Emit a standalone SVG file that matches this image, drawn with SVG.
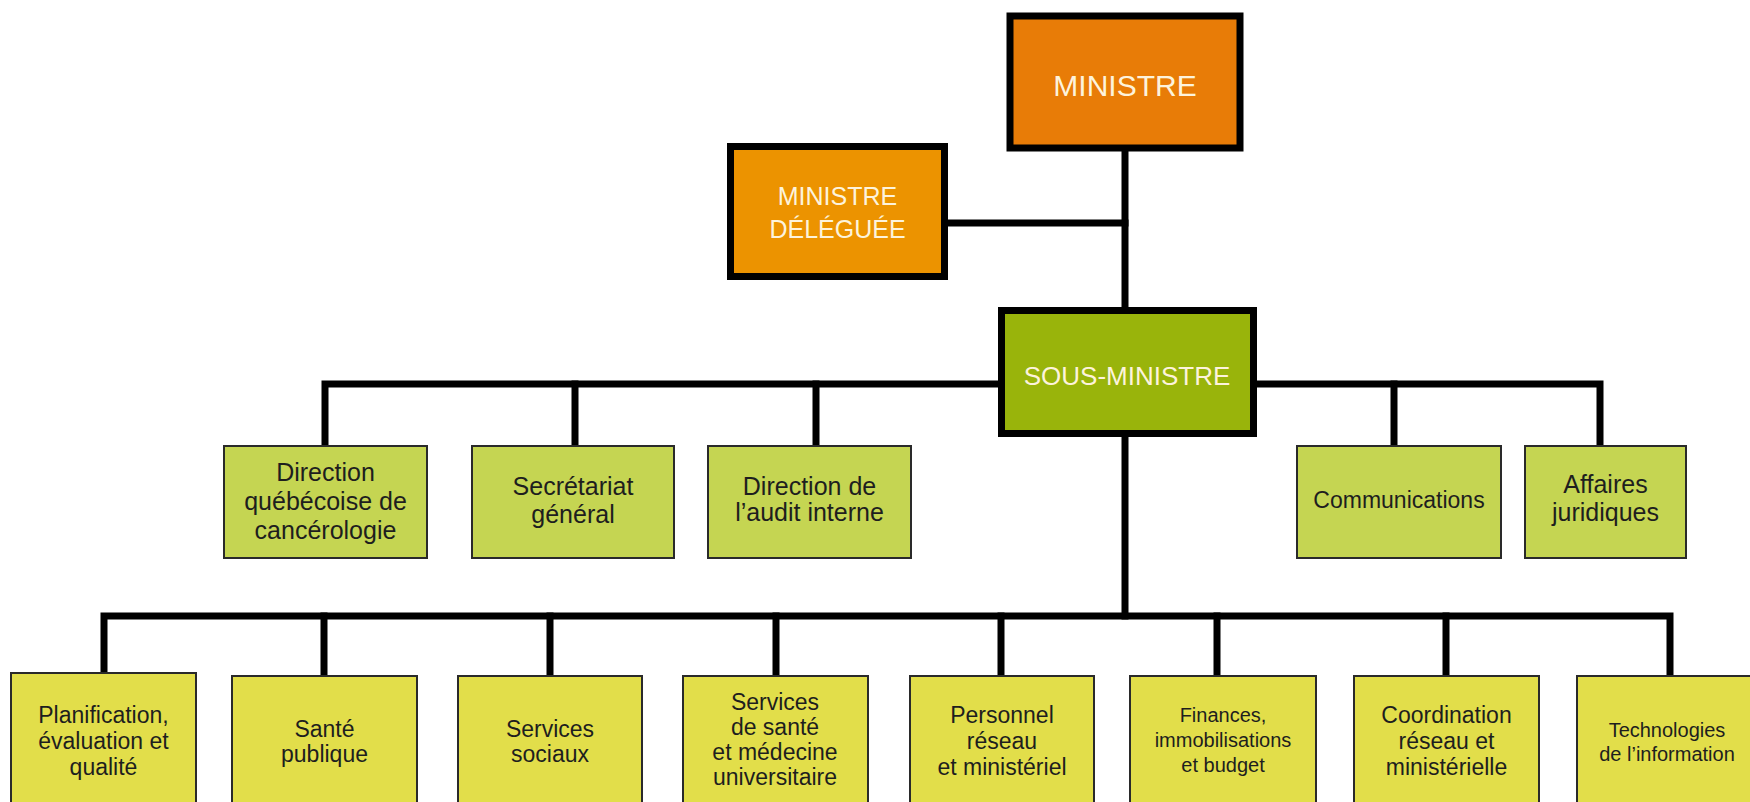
<svg xmlns="http://www.w3.org/2000/svg" width="1750" height="802" viewBox="0 0 1750 802">
<style>
.conn{stroke:#000;stroke-width:7;fill:none;stroke-linecap:square}
.top{stroke:#000;stroke-width:7}
.l2{fill:#C5D552;stroke:#2a2a2a;stroke-width:2}
.l3{fill:#E2DE4A;stroke:#2a2a2a;stroke-width:2}
text{font-family:"Liberation Sans",Arial,sans-serif;text-anchor:middle}
.tw{fill:#FDF3DC}
.td{fill:#1e1e1e;font-size:25px}
.t3{fill:#1e1e1e;font-size:23px}
.t3s{fill:#1e1e1e;font-size:20px}
</style>
<rect width="1750" height="802" fill="#fff"/>
<g id="connectors">
<path class="conn" d="M1125 152V309"/>
<path class="conn" d="M948 223H1125"/>
<path class="conn" d="M325 446V384H1600V446"/>
<path class="conn" d="M575 384V446M816 384V446M1394 384V446"/>
<path class="conn" d="M1125 437V616"/>
<path class="conn" d="M104 674V616H1670V674"/>
<path class="conn" d="M324 616V674M550 616V674M776 616V674M1001 616V674M1217 616V674M1446 616V674"/>
</g>
<g id="ministre">
<rect class="top" x="1010" y="16" width="230" height="132" fill="#E87C07"/>
<text class="tw" x="1125" y="96" font-size="30">MINISTRE</text>
</g>
<g id="ministre-deleguee">
<rect class="top" x="730.5" y="146.5" width="214" height="130" fill="#EC9300"/>
<text class="tw" x="837.5" y="205" font-size="25">MINISTRE</text>
<text class="tw" x="837.5" y="238" font-size="25">DÉLÉGUÉE</text>
</g>
<g id="sous-ministre">
<rect class="top" x="1001.5" y="310.5" width="252" height="123" fill="#99B40B"/>
<text class="tw" x="1127" y="385" font-size="26">SOUS-MINISTRE</text>
</g>
<g id="dqc">
<rect class="l2" x="224" y="446" width="203" height="112"/>
<text class="td" x="325.5" y="481">Direction</text>
<text class="td" x="325.5" y="510">québécoise de</text>
<text class="td" x="325.5" y="539">cancérologie</text>
</g>
<g id="secretariat">
<rect class="l2" x="472" y="446" width="202" height="112"/>
<text class="td" x="573" y="495">Secrétariat</text>
<text class="td" x="573" y="523">général</text>
</g>
<g id="audit">
<rect class="l2" x="708" y="446" width="203" height="112"/>
<text class="td" x="809.5" y="495">Direction de</text>
<text class="td" x="809.5" y="521">l’audit interne</text>
</g>
<g id="communications">
<rect class="l2" x="1297" y="446" width="204" height="112"/>
<text class="t3" x="1399" y="508">Communications</text>
</g>
<g id="affaires">
<rect class="l2" x="1525" y="446" width="161" height="112"/>
<text class="td" x="1605.5" y="493" font-size="24">Affaires</text>
<text class="td" x="1605.5" y="521" font-size="24">juridiques</text>
</g>
<g id="planification">
<rect class="l3" x="11" y="673" width="185" height="140"/>
<text class="t3" x="103.5" y="723">Planification,</text>
<text class="t3" x="103.5" y="749">évaluation et</text>
<text class="t3" x="103.5" y="775">qualité</text>
</g>
<g id="sante-publique">
<rect class="l3" x="232" y="676" width="185" height="140"/>
<text class="t3" x="324.5" y="737">Santé</text>
<text class="t3" x="324.5" y="762">publique</text>
</g>
<g id="services-sociaux">
<rect class="l3" x="458" y="676" width="184" height="140"/>
<text class="t3" x="550" y="737">Services</text>
<text class="t3" x="550" y="762">sociaux</text>
</g>
<g id="services-sante">
<rect class="l3" x="683" y="676" width="185" height="140"/>
<text class="t3" x="775" y="710">Services</text>
<text class="t3" x="775" y="735">de santé</text>
<text class="t3" x="775" y="760">et médecine</text>
<text class="t3" x="775" y="785">universitaire</text>
</g>
<g id="personnel">
<rect class="l3" x="910" y="676" width="184" height="140"/>
<text class="t3" x="1002" y="723">Personnel</text>
<text class="t3" x="1002" y="749">réseau</text>
<text class="t3" x="1002" y="775">et ministériel</text>
</g>
<g id="finances">
<rect class="l3" x="1130" y="676" width="186" height="140"/>
<text class="t3s" x="1223" y="722">Finances,</text>
<text class="t3s" x="1223" y="747">immobilisations</text>
<text class="t3s" x="1223" y="772">et budget</text>
</g>
<g id="coordination">
<rect class="l3" x="1354" y="676" width="185" height="140"/>
<text class="t3" x="1446.5" y="723">Coordination</text>
<text class="t3" x="1446.5" y="749">réseau et</text>
<text class="t3" x="1446.5" y="775">ministérielle</text>
</g>
<g id="technologies">
<rect class="l3" x="1577" y="676" width="190" height="140"/>
<text class="t3s" x="1667" y="737">Technologies</text>
<text class="t3s" x="1667" y="761">de l’information</text>
</g>
</svg>
